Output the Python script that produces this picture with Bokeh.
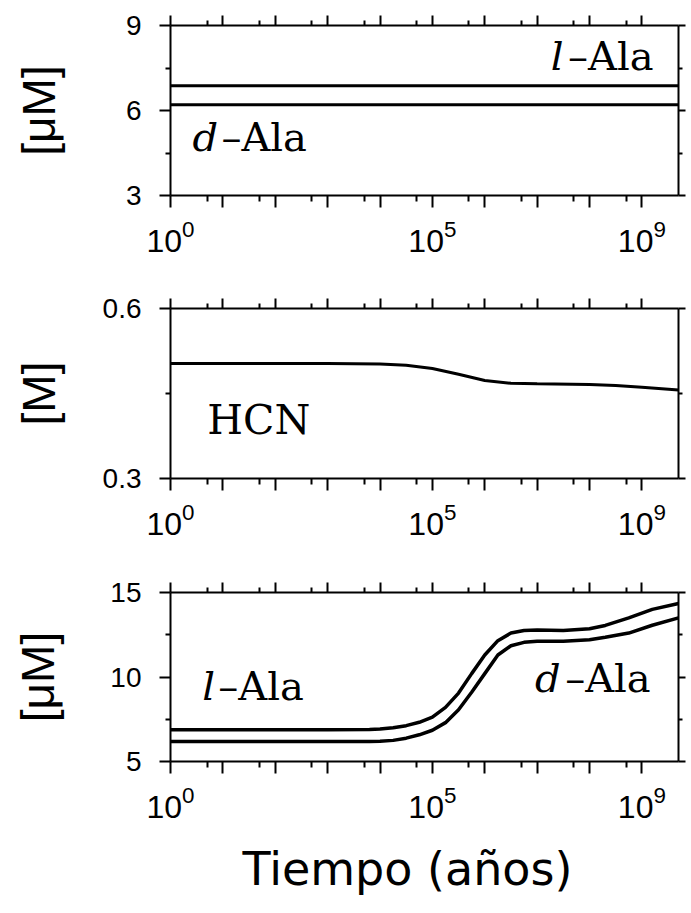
from bokeh.plotting import figure
from bokeh.layouts import column
from bokeh.models import FixedTicker, LogAxis, LinearAxis, Label, Title
from bokeh.embed import file_html
from bokeh.resources import INLINE

# ---------------- data ----------------
x_start, x_end = 1, 5000000000
x_major = [1, 10, 100, 1000, 10000, 100000, 1000000, 10000000, 100000000, 1000000000]
x_minor = [5, 50, 500, 5000, 50000, 500000, 5000000, 50000000, 500000000]
x_unlabeled = [10, 100, 1000, 10000, 1000000, 10000000, 100000000]

# panel 1: [uM] l-Ala / d-Ala (constant)
t1 = [1, 5000000000]
l_ala1 = [6.87, 6.87]
d_ala1 = [6.2, 6.2]
y1_ticks = [3, 6, 9]
y1_minor = [4.5, 7.5]

# panel 2: HCN [M]
t2 = [1, 10, 100, 1000, 10000, 31600, 100000, 316000, 1000000, 3160000,
      10000000, 100000000, 316000000, 1000000000, 5000000000]
hcn = [0.503, 0.503, 0.503, 0.503, 0.502, 0.500, 0.494, 0.484, 0.473, 0.468,
       0.467, 0.466, 0.464, 0.461, 0.456]
y2_ticks = [0.3, 0.6]
y2_minor = [0.45]

# panel 3: [uM] l-Ala / d-Ala
t3 = [1, 10, 100, 1000, 6300, 10000, 17800, 31600, 56200, 100000, 178000,
      316000, 562000, 1000000, 1780000, 3160000, 5620000, 10000000, 31600000,
      100000000, 200000000, 562000000, 1580000000, 5000000000]
l_ala3 = [6.88, 6.88, 6.88, 6.88, 6.89, 6.92, 7.0, 7.12, 7.32, 7.62, 8.2,
          9.05, 10.2, 11.3, 12.15, 12.6, 12.75, 12.78, 12.75, 12.85, 13.05,
          13.5, 14.0, 14.35]
d_ala3 = [6.18, 6.18, 6.18, 6.18, 6.18, 6.2, 6.25, 6.38, 6.58, 6.85, 7.3,
          8.06, 9.1, 10.2, 11.3, 11.85, 12.05, 12.12, 12.12, 12.2, 12.35,
          12.6, 13.06, 13.5]
y3_ticks = [5, 10, 15]
y3_minor = [7.5, 12.5]

SANS = "Liberation Sans"
SERIF = "DejaVu Serif"
W = 690
FRAME_H = 170
LIFT = 15  # pixel lift of in-plot labels


def blank(ticks):
    return {t: " " for t in ticks}


def make_panel(yr, yt, ym, top, bottom, ylab, ylab_standoff):
    p = figure(width=W, height=top + FRAME_H + bottom, x_axis_type="log",
               x_range=(x_start, x_end), y_range=yr,
               output_backend="svg", toolbar_location=None,
               min_border_left=170, min_border_right=10,
               min_border_top=top, min_border_bottom=bottom,
               background_fill_color="white", border_fill_color="white")
    p.grid.visible = False
    p.outline_line_color = None

    xb = p.below[0]
    xb.ticker = FixedTicker(ticks=x_major, minor_ticks=x_minor)
    xb.major_label_overrides = blank(x_unlabeled)
    xb.major_label_text_font = SANS
    xb.major_label_text_font_size = "32px"
    xb.major_label_text_color = "black"
    xb.major_label_standoff = 12
    xb.major_tick_in = 0
    xb.major_tick_out = 12
    xb.minor_tick_in = 0
    xb.minor_tick_out = 6

    yl = p.left[0]
    yl.ticker = FixedTicker(ticks=yt, minor_ticks=ym)
    yl.major_label_text_font = SANS
    yl.major_label_text_font_size = "28px"
    yl.major_label_text_color = "black"
    yl.major_label_standoff = 18
    yl.major_tick_in = 0
    yl.major_tick_out = 11
    yl.minor_tick_in = 0
    yl.minor_tick_out = 5
    yl.axis_label = ylab
    yl.axis_label_text_font = SANS
    yl.axis_label_text_font_size = "46px"
    yl.axis_label_text_font_style = "normal"
    yl.axis_label_text_color = "black"
    yl.axis_label_standoff = ylab_standoff

    xt = LogAxis(ticker=FixedTicker(ticks=x_major, minor_ticks=x_minor),
                 major_label_overrides=blank(x_major),
                 major_label_text_font_size="8px", major_label_standoff=0,
                 major_tick_in=0, major_tick_out=10, minor_tick_in=0, minor_tick_out=5)
    p.add_layout(xt, "above")
    yr_ax = LinearAxis(ticker=FixedTicker(ticks=yt, minor_ticks=ym),
                       major_label_overrides=blank(yt),
                       major_label_text_font_size="8px", major_label_standoff=0,
                       major_tick_in=0, major_tick_out=7, minor_tick_in=0, minor_tick_out=4)
    p.add_layout(yr_ax, "right")

    for ax in (xb, yl, xt, yr_ax):
        ax.axis_line_width = 2
        ax.axis_line_color = "black"
        ax.major_tick_line_width = 2
        ax.minor_tick_line_width = 2
        ax.major_tick_line_color = "black"
        ax.minor_tick_line_color = "black"
    return p


def name_label(p, x, y, letter, rest, offset, letter_right):
    # italic letter + "–Ala"
    common = dict(x=x, y=y, y_offset=LIFT, text_baseline="alphabetic",
                  text_font=SERIF, text_font_size="40px", text_color="black")
    if letter_right:
        p.add_layout(Label(text=rest, text_align="right", **common))
        p.add_layout(Label(text=letter, text_align="right", x_offset=offset,
                           text_font_style="italic", **common))
    else:
        p.add_layout(Label(text=letter, text_align="left",
                           text_font_style="italic", **common))
        p.add_layout(Label(text=rest, text_align="left", x_offset=offset, **common))


# panel 1
p1 = make_panel((3, 9), y1_ticks, y1_minor, 25, 75, "[μM]", 58)
p1.line(t1, l_ala1, line_color="black", line_width=3)
p1.line(t1, d_ala1, line_color="black", line_width=3)
name_label(p1, 1675000000, 7.41, "l", "–Ala", -90, True)
name_label(p1, 2.62, 4.52, "d", "–Ala", 29, False)

# panel 2
p2 = make_panel((0.3, 0.6), y2_ticks, y2_minor, 38, 77, "[M]", 35)
p2.line(t2, hcn, line_color="black", line_width=3)
p2.add_layout(Label(x=5.05, y=0.376, y_offset=LIFT, text="HCN", text_align="left",
                    text_baseline="alphabetic", text_font=SERIF,
                    text_font_size="41px", text_color="black"))

# panel 3
p3 = make_panel((5, 15), y3_ticks, y3_minor, 37, 148, "[μM]", 43)
p3.line(t3, l_ala3, line_color="black", line_width=3.5)
p3.line(t3, d_ala3, line_color="black", line_width=3.5)
name_label(p3, 4.06, 8.59, "l", "–Ala", 16, False)
name_label(p3, 1470000000, 9.06, "d", "–Ala", -90, True)
p3.add_layout(Title(text="Tiempo (años)", align="left", offset=72, standoff=30,
                    text_font="DejaVu Sans", text_font_size="46px",
                    text_font_style="normal", text_color="black"), "below")

layout = column(p1, p2, p3)
open("out.html", "w").write(file_html(layout, INLINE))
